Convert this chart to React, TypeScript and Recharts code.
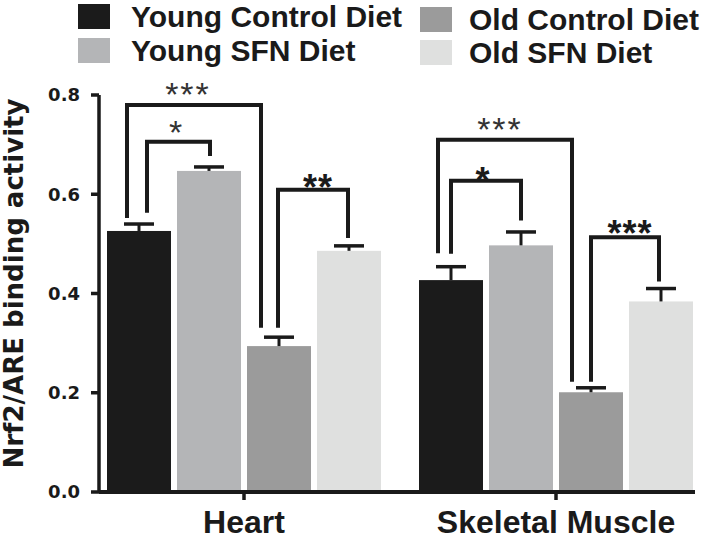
import React from 'react';
import { BarChart, Bar, XAxis, YAxis, Legend, Label } from 'recharts';

// ---------- data ----------
const categories = ['Heart', 'Skeletal Muscle'];
const seriesNames = ['Young Control Diet', 'Young SFN Diet', 'Old Control Diet', 'Old SFN Diet'];
const youngControl = [0.526, 0.427];
const youngControlSem = [0.014, 0.027];
const youngSfn = [0.647, 0.497];
const youngSfnSem = [0.008, 0.027];
const oldControl = [0.294, 0.201];
const oldControlSem = [0.018, 0.009];
const oldSfn = [0.486, 0.384];
const oldSfnSem = [0.01, 0.026];
const yTicks = [0, 0.2, 0.4, 0.6, 0.8];

// significance brackets (series index from/to, heights in data units, stars)
const heartBrackets = [
  { from: 0, to: 2, top: 0.78, fromEnd: 0.552, toEnd: 0.331, stars: '***', bold: false },
  { from: 0, to: 1, top: 0.706, fromEnd: 0.5625, toEnd: 0.677, stars: '*', bold: false },
  { from: 2, to: 3, top: 0.609, fromEnd: 0.331, toEnd: 0.512, stars: '**', bold: true },
];
const muscleBrackets = [
  { from: 0, to: 2, top: 0.71, fromEnd: 0.481, toEnd: 0.222, stars: '***', bold: false },
  { from: 0, to: 1, top: 0.627, fromEnd: 0.48, toEnd: 0.547, stars: '*', bold: true },
  { from: 2, to: 3, top: 0.5135, fromEnd: 0.222, toEnd: 0.424, stars: '***', bold: true },
];

// ---------- styles ----------
const COLORS = ['#1b1b1b', '#b4b5b7', '#9b9b9b', '#dfe0df'];
const INK = '#1a1a1a';
const BAR_SIZE = 64;
const BAR_GAP = 6;
const CAP_HALF = 15;
const heartBracketStyle = [
  { dxFrom: -12, dxTo: -18, labelDx: -6, labelDy: 1 },
  { dxFrom: 8, dxTo: 1, labelDx: -2, labelDy: 2 },
  { dxFrom: -1, dxTo: -1, labelDx: 5, labelDy: 10 },
];
const muscleBracketStyle = [
  { dxFrom: -13, dxTo: -19, labelDx: -5, labelDy: 1 },
  { dxFrom: 0, dxTo: 0, labelDx: -3, labelDy: 12 },
  { dxFrom: 0, dxTo: -2, labelDx: 5, labelDy: 9 },
];
const LEGEND_POS = [
  { sqX: 78, txtX: 131, rowY: [4, 38] },
  { sqX: 420, txtX: 469, rowY: [7, 40] },
];

const data = categories.map((name, i) => ({
  name,
  yc: youngControl[i],
  ycErr: youngControlSem[i],
  ys: youngSfn[i],
  ysErr: youngSfnSem[i],
  oc: oldControl[i],
  ocErr: oldControlSem[i],
  os: oldSfn[i],
  osErr: oldSfnSem[i],
}));

const bracketSets = [heartBrackets, muscleBrackets];
const bracketStyles = [heartBracketStyle, muscleBracketStyle];

const makeShape = (seriesIdx: number, valKey: string, errKey: string, withBrackets: boolean) =>
  (props: any) => {
    const { x, y, width, height, payload, index } = props;
    const value = payload[valKey];
    const ppu = value ? height / value : 0;
    const bottom = y + height;
    const cx = x + width / 2;
    const errTop = y - payload[errKey] * ppu;
    const items: any[] = [];
    if (withBrackets) {
      const brs = bracketSets[index] || [];
      const sts = bracketStyles[index] || [];
      brs.forEach((b, k) => {
        const st = sts[k];
        const step = width + BAR_GAP;
        const xf = cx + (b.from - seriesIdx) * step + st.dxFrom;
        const xt = cx + (b.to - seriesIdx) * step + st.dxTo;
        const yt = bottom - b.top * ppu;
        const yf = bottom - b.fromEnd * ppu;
        const yto = bottom - b.toEnd * ppu;
        items.push(
          <g key={'br' + k}>
            <path
              d={`M${xf},${yf} L${xf},${yt} L${xt},${yt} L${xt},${yto}`}
              fill="none"
              stroke={INK}
              strokeWidth={4}
              strokeLinejoin="miter"
            />
            <text
              x={(xf + xt) / 2 + st.labelDx}
              y={yt + st.labelDy}
              textAnchor="middle"
              fontFamily="'Liberation Sans', Arial, sans-serif"
              fontWeight={b.bold ? 'bold' : 'normal'}
              fontSize={b.bold ? 36 : 34}
              letterSpacing={b.bold ? 1 : 2}
              fill={b.bold ? INK : '#333333'}
            >
              {b.stars}
            </text>
          </g>
        );
      });
    }
    return (
      <g>
        <rect x={x} y={y} width={width} height={height} fill={COLORS[seriesIdx]} />
        <line x1={cx} x2={cx} y1={y} y2={errTop} stroke={INK} strokeWidth={3} />
        <line x1={cx - CAP_HALF} x2={cx + CAP_HALF} y1={errTop} y2={errTop} stroke={INK} strokeWidth={3.5} />
        {items}
      </g>
    );
  };

const renderLegend = (props: any) => {
  const payload = props.payload || [];
  return (
    <div style={{ position: 'relative', width: 709, height: 80 }}>
      {payload.map((entry: any, j: number) => {
        const found = seriesNames.indexOf(entry.value);
        const i = found >= 0 ? found : j;
        const col = Math.floor(i / 2);
        const row = i % 2;
        const pos = LEGEND_POS[col];
        const top = pos.rowY[row];
        return (
          <React.Fragment key={i}>
            <div
              style={{
                position: 'absolute',
                left: pos.sqX,
                top,
                width: 32,
                height: 25,
                background: entry.color,
              }}
            />
            <div
              style={{
                position: 'absolute',
                left: pos.txtX,
                top: top - 10,
                height: 45,
                lineHeight: '45px',
                fontFamily: "'Liberation Sans', Arial, sans-serif",
                fontWeight: 'bold',
                fontSize: 30,
                color: INK,
                whiteSpace: 'nowrap',
              }}
            >
              {entry.value}
            </div>
          </React.Fragment>
        );
      })}
    </div>
  );
};

const renderYLabel = (props: any) => {
  const vb = props.viewBox || { x: 0, y: 95, width: 99, height: 397 };
  const x = vb.x + 23;
  const y = vb.y + vb.height / 2 - 10;
  return (
    <text
      x={x}
      y={y}
      transform={`rotate(-90, ${x}, ${y})`}
      textAnchor="middle"
      fontFamily="'DejaVu Sans', sans-serif"
      fontWeight="bold"
      fontSize={26}
      textLength={370}
      lengthAdjust="spacingAndGlyphs"
      fill={INK}
    >
      Nrf2/ARE binding activity
    </text>
  );
};

export default function App() {
  const keys = [
    ['yc', 'ycErr'],
    ['ys', 'ysErr'],
    ['oc', 'ocErr'],
    ['os', 'osErr'],
  ];
  return (
    <div style={{ width: 709, height: 546, background: '#fff' }}>
      <style>{'body{margin:0;background:#fff}'}</style>
      <BarChart
        width={709}
        height={546}
        data={data}
        margin={{ top: 95, right: 14, bottom: 0, left: 0 }}
        barSize={BAR_SIZE}
        barGap={BAR_GAP}
      >
        <XAxis
          dataKey="name"
          height={54}
          padding={{ left: -11, right: -17 }}
          axisLine={{ stroke: INK, strokeWidth: 4 }}
          tickLine={{ stroke: INK, strokeWidth: 3.5 }}
          tickSize={8}
          tickMargin={10}
          tick={{ fill: INK, fontSize: 32, fontWeight: 'bold', fontFamily: "'Liberation Sans', Arial, sans-serif" }}
        />
        <YAxis
          width={99}
          domain={[0, 0.8]}
          ticks={yTicks}
          interval={0}
          tickFormatter={(v: number) => v.toFixed(1)}
          axisLine={{ stroke: INK, strokeWidth: 3.5 }}
          tickLine={{ stroke: INK, strokeWidth: 3.5 }}
          tickSize={8}
          tickMargin={11}
          tick={{ fill: INK, fontSize: 18, fontWeight: 'bold', fontFamily: "'DejaVu Sans', sans-serif" }}
        >
          <Label content={renderYLabel} />
        </YAxis>
        <Legend
          content={renderLegend}
          layout="horizontal"
          verticalAlign="middle"
          align="center"
          wrapperStyle={{ position: 'absolute', top: 0, left: 0, width: 709, height: 80 }}
        />
        {keys.map(([k, e], i) => (
          <Bar
            key={k}
            dataKey={k}
            name={seriesNames[i]}
            fill={COLORS[i]}
            isAnimationActive={false}
            shape={makeShape(i, k, e, i === 0)}
          />
        ))}
      </BarChart>
    </div>
  );
}
